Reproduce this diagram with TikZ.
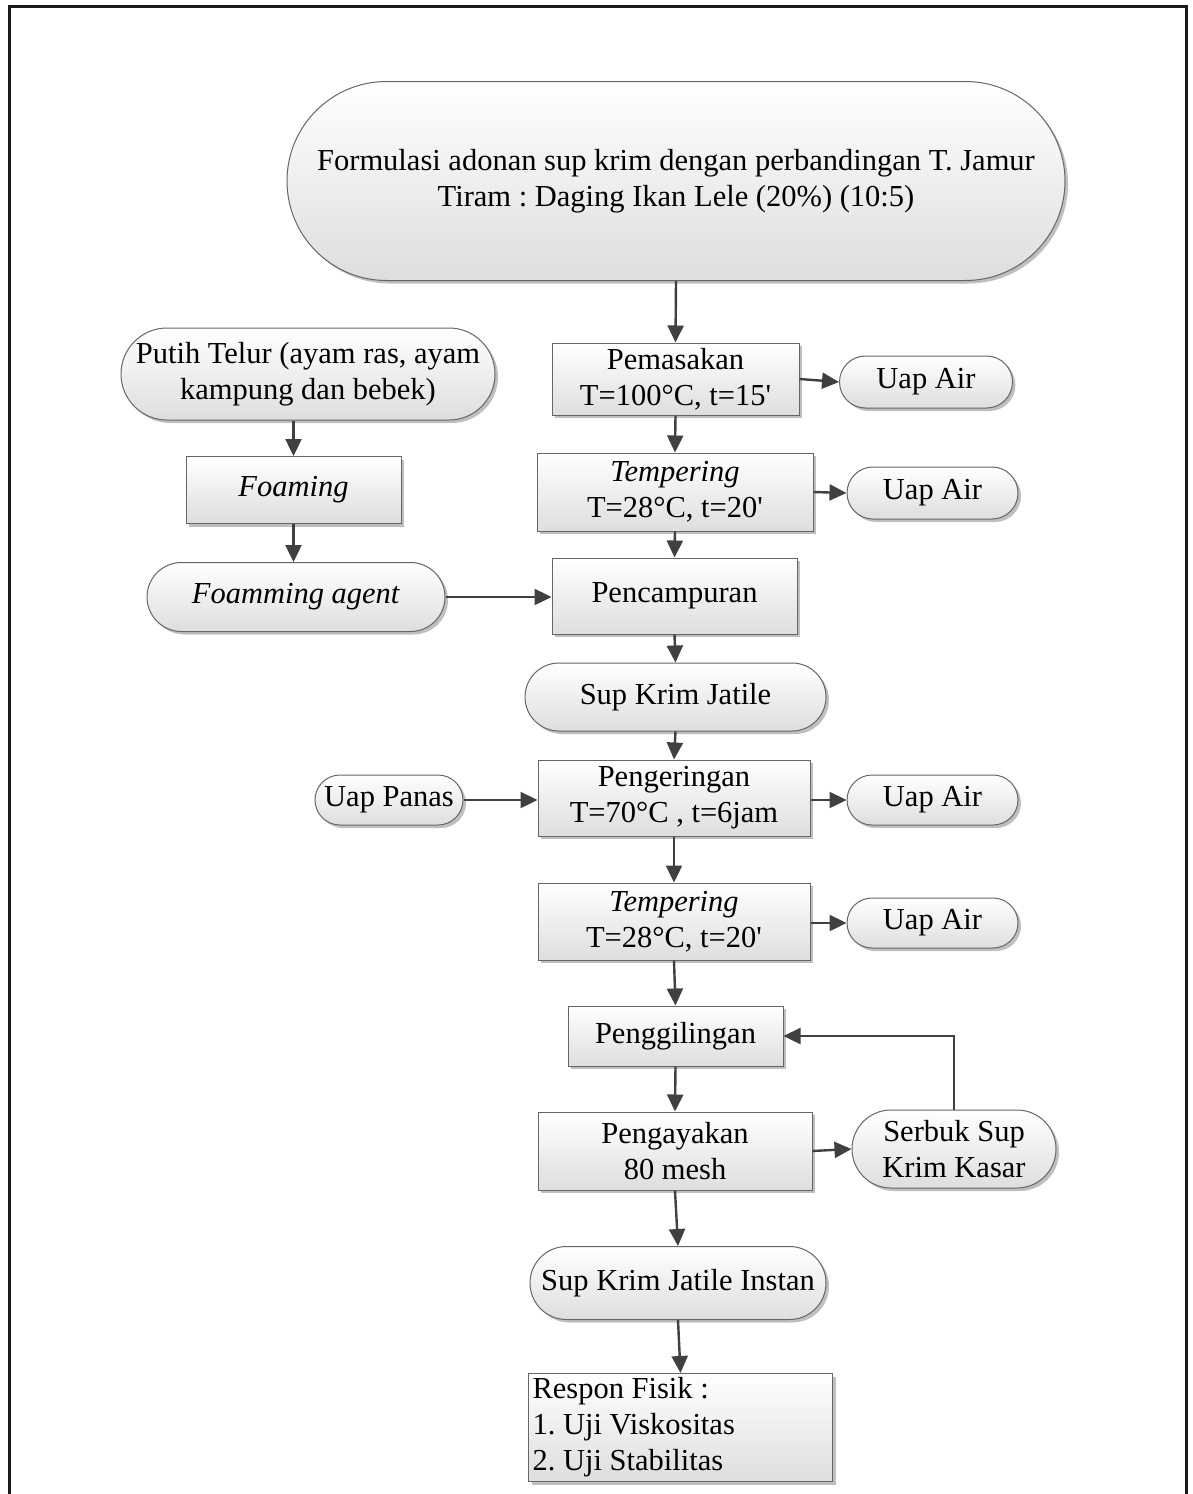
\documentclass[tikz,border=0pt]{standalone}
\usepackage{fontspec}
\setmainfont{Liberation Serif}
\newfontfamily\plainquote{Liberation Serif}
\usetikzlibrary{shapes.misc,shadows,arrows.meta}
\newcommand{\apos}{{\plainquote\char"0027\relax}}
\frenchspacing
\begin{document}
\begin{tikzpicture}[x=1pt,y=-1pt,
  every node/.style={font=\fontsize{30.5}{36}\selectfont\frenchspacing, text=black},
  procbox/.style={draw=black!60, line width=1pt, top color=white, bottom color=black!13,
    drop shadow={shadow xshift=3pt, shadow yshift=-3pt, fill=black!25, opacity=1},
    align=center, inner sep=2pt},
  termbox/.style={rounded rectangle, draw=black!60, line width=1pt, top color=white, bottom color=black!13,
    drop shadow={shadow xshift=3pt, shadow yshift=-3pt, fill=black!25, opacity=1},
    align=center, inner sep=2pt},
  flow/.style={draw=black!75, line width=2.4pt, -{Triangle[length=17pt,width=16pt]}},
]
\useasboundingbox (0,0) rectangle (1192,1494);
\draw[line width=3pt, black!90] (9,1494) -- (9,6) -- (1186,6) -- (1186,1494);

% main column
\node[termbox, minimum width=782pt, minimum height=199pt] (top) at (676,181)
  {Formulasi adonan sup krim dengan perbandingan T. Jamur\\Tiram : Daging Ikan Lele (20\%) (10:5)};
\node[procbox, minimum width=247pt, minimum height=72pt] (pem) at (675.5,379)
  {Pemasakan\\T=100°C, t=15\apos};
\node[termbox, minimum width=177pt, minimum height=52pt] (ua1) at (926,382) {Uap Air};
\node[procbox, minimum width=276pt, minimum height=78pt] (tem1) at (675,492)
  {\textit{Tempering}\\T=28°C, t=20\apos};
\node[termbox, minimum width=175pt, minimum height=52pt] (ua2) at (932.5,493) {Uap Air};
\node[procbox, minimum width=245pt, minimum height=76pt] (pen) at (674.5,596) {Pencampuran};

% left branch
\node[termbox, minimum width=378pt, minimum height=92pt] (put) at (308,374)
  {Putih Telur (ayam ras, ayam\\kampung dan bebek)};
\node[procbox, minimum width=215pt, minimum height=67pt] (foam) at (293.5,490) {\textit{Foaming}};
\node[termbox, minimum width=302pt, minimum height=69pt] (fa) at (296,597) {\textit{Foamming agent}};

\node[termbox, minimum width=305pt, minimum height=68pt] (skj) at (675.5,697) {Sup Krim Jatile};
\node[procbox, minimum width=272pt, minimum height=76pt] (peng) at (674,798)
  {Pengeringan\\T=70°C , t=6jam};
\node[termbox, minimum width=148pt, minimum height=50pt, inner sep=0pt] (upanas) at (389,800) {Uap Panas};
\node[termbox, minimum width=175pt, minimum height=50pt] (ua3) at (932.5,800) {Uap Air};
\node[procbox, minimum width=272pt, minimum height=77pt] (tem2) at (674,921.5)
  {\textit{Tempering}\\T=28°C, t=20\apos};
\node[termbox, minimum width=175pt, minimum height=50pt] (ua4) at (932.5,923) {Uap Air};
\node[procbox, minimum width=215pt, minimum height=60pt] (gil) at (675.5,1036) {Penggilingan};
\node[procbox, minimum width=274pt, minimum height=78pt] (ayak) at (675,1151)
  {Pengayakan\\80 mesh};
\node[termbox, minimum width=204pt, minimum height=78pt, inner sep=0pt] (serbuk) at (954,1149)
  {Serbuk Sup\\Krim Kasar};
\node[termbox, minimum width=296pt, minimum height=73pt, inner sep=0pt] (inst) at (678,1283) {Sup Krim Jatile Instan};
\node[procbox, text width=296pt, minimum height=108pt, align=flush left, anchor=north west,
  inner xsep=4pt, inner ysep=4pt] (resp) at (528,1373)
  {Respon Fisik :\\1. Uji Viskositas\\2. Uji Stabilitas};

% connectors
\draw[flow] (top.south) -- (pem.north);
\draw[flow] (pem.east) -- (ua1.west);
\draw[flow] (pem.south) -- (tem1.north);
\draw[flow] (tem1.east) -- (ua2.west);
\draw[flow] (tem1.south) -- (pen.north);
\draw[flow] (foam.north |- put.south) -- (foam.north);
\draw[flow] (foam.south) -- (foam.south |- fa.north);
\draw[flow] (fa.east) -- (pen.west |- fa.east);
\draw[flow] (pen.south) -- (skj.north);
\draw[flow] (skj.south) -- (peng.north);
\draw[flow] (upanas.east) -- (peng.west |- upanas.east);
\draw[flow] (peng.east |- ua3.west) -- (ua3.west);
\draw[flow] (peng.south) -- (tem2.north);
\draw[flow] (tem2.east |- ua4.west) -- (ua4.west);
\draw[flow] (tem2.south) -- (gil.north);
\draw[flow] (gil.south) -- (ayak.north);
\draw[flow] (ayak.east) -- (serbuk.west);
\draw[flow] (serbuk.north) |- (gil.east);
\draw[flow] (ayak.south) -- (inst.north);
\draw[flow] (inst.south) -- (resp.north);
\end{tikzpicture}
\end{document}
